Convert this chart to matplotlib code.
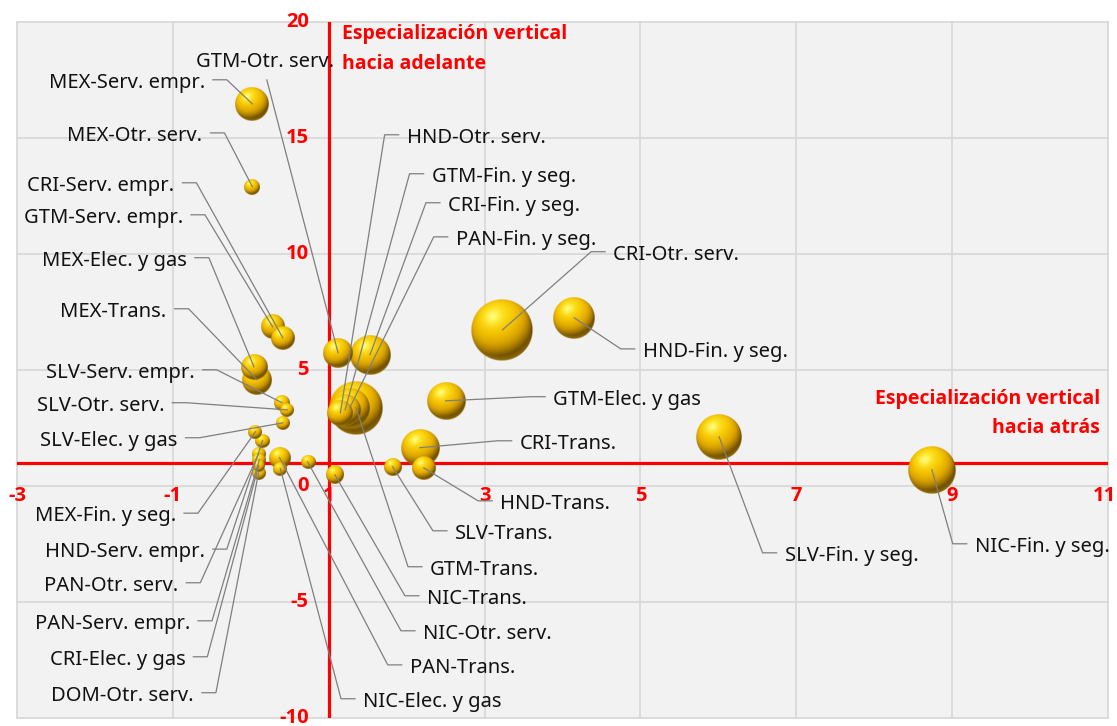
import numpy as np
import matplotlib.pyplot as plt
from matplotlib.colors import LinearSegmentedColormap

plt.rcParams['font.family'] = ['Noto Sans', 'DejaVu Sans']

# sector por país: especialización hacia atrás (x), hacia adelante (y), peso (tamaño)
etiquetas = [
    'MEX-Serv. empr.', 'MEX-Otr. serv.', 'CRI-Serv. empr.', 'GTM-Serv. empr.',
    'MEX-Elec. y gas', 'MEX-Trans.', 'SLV-Serv. empr.', 'SLV-Otr. serv.',
    'SLV-Elec. y gas', 'MEX-Fin. y seg.', 'HND-Serv. empr.', 'PAN-Otr. serv.',
    'PAN-Serv. empr.', 'CRI-Elec. y gas', 'DOM-Otr. serv.', 'GTM-Otr. serv.',
    'HND-Otr. serv.', 'GTM-Fin. y seg.', 'CRI-Fin. y seg.', 'PAN-Fin. y seg.',
    'CRI-Otr. serv.', 'HND-Fin. y seg.', 'GTM-Elec. y gas', 'CRI-Trans.',
    'HND-Trans.', 'SLV-Trans.', 'GTM-Trans.', 'NIC-Trans.',
    'NIC-Otr. serv.', 'PAN-Trans.', 'NIC-Elec. y gas', 'SLV-Fin. y seg.',
    'NIC-Fin. y seg.',
]
esp_atras = [
    0.02, 0.02, 0.41, 0.28, 0.04, 0.08, 0.40, 0.47,
    0.41, 0.06, 0.15, 0.10, 0.11, 0.10, 0.10, 1.12,
    1.15, 1.21, 1.53, 1.27, 3.23, 4.15, 2.50, 2.17,
    2.22, 1.82, 1.35, 1.08, 0.73, 0.37, 0.38, 6.01,
    8.74,
]
esp_adelante = [
    16.47, 12.90, 6.39, 6.86, 5.14, 4.58, 3.59, 3.28,
    2.72, 2.34, 1.95, 1.39, 1.13, 0.87, 0.57, 5.74,
    3.16, 3.28, 5.66, 3.37, 6.73, 7.25, 3.67, 1.65,
    0.78, 0.83, 3.37, 0.48, 1.04, 1.22, 0.74, 2.12,
    0.70,
]
peso = [
    2.89, 0.64, 1.44, 1.44, 1.69, 2.25, 0.64, 0.49,
    0.49, 0.49, 0.49, 0.49, 0.49, 0.36, 0.49, 2.25,
    1.69, 2.56, 4.00, 4.00, 9.61, 4.41, 3.61, 3.61,
    1.44, 0.81, 7.29, 0.81, 0.49, 1.21, 0.49, 5.29,
    5.76,
]

# ubicación de las etiquetas (extremo del texto) y lado del conector
etq_x = [
    -0.59, -0.62, -0.98, -0.87, -0.82, -1.08, -0.72, -1.11,
    -0.94, -0.96, -0.59, -0.93, -0.78, -0.84, -0.73, 0.18,
    2.00, 2.32, 2.53, 2.63, 4.65, 5.03, 3.88, 3.45,
    3.20, 2.62, 2.30, 2.26, 2.21, 2.04, 1.44, 6.85,
    9.29,
]
etq_y = [
    17.38, 15.09, 12.94, 11.56, 9.71, 7.51, 4.88, 3.46,
    1.95, -1.30, -2.85, -4.30, -5.94, -7.49, -9.04, 18.28,
    15.01, 13.33, 12.08, 10.61, 9.97, 5.78, 3.72, 1.82,
    -0.77, -2.06, -3.61, -4.86, -6.37, -7.84, -9.30, -3.01,
    -2.62,
]
etq_lado = ['izq'] * 15 + ['arriba'] + ['der'] * 17

x_ticks = [-3, -1, 1, 3, 5, 7, 9, 11]
y_ticks = [-10, -5, 0, 5, 10, 15, 20]

ROJO = '#ff0000'
NEGRITA = ['Open Sans', 'DejaVu Sans']
W, H = 1117, 726
fig = plt.figure(figsize=(W / 100, H / 100), dpi=100)
ax = fig.add_axes([17 / W, 8 / H, 1091 / W, 696 / H])
ax.set_xlim(-3, 11)
ax.set_ylim(-10, 20)
ax.set_facecolor('#f2f2f2')
for s in ax.spines.values():
    s.set_visible(False)
ax.set_xticks([])
ax.set_yticks([])

# tamaño de un píxel en unidades de datos
px_x = 14 / 1091
px_y = 30 / 696

for xv in x_ticks:
    ax.axvline(xv, color='#d9d9d9', lw=1.3, zorder=0, clip_on=False)
for yv in y_ticks:
    ax.axhline(yv, color='#d9d9d9', lw=1.3, zorder=0, clip_on=False)

# ejes cruzando en (1, 1)
ax.axvline(1, color=ROJO, lw=2.3, zorder=3)
ax.axhline(1, color=ROJO, lw=2.3, zorder=3)

tick_kw = dict(color=ROJO, fontsize=14.5, fontweight='bold', family=NEGRITA, clip_on=False)
for xv in x_ticks:
    # el último rótulo se corre un poco para no salirse del borde
    dx = -4 * px_x if xv == x_ticks[-1] else 0
    ax.text(xv + dx, 1 - 33 * px_y, f'{xv}', ha='center', va='center', zorder=2, **tick_kw)
for yv in y_ticks:
    ax.text(1 - 20 * px_x, yv, f'{yv}', ha='right', va='center', zorder=2, **tick_kw)


def esfera(n=160):
    u = np.linspace(-1, 1, n)
    X, Y = np.meshgrid(u, u[::-1])
    d = np.sqrt(X ** 2 + Y ** 2)
    z = np.sqrt(np.clip(1 - d ** 2, 0, 1))
    luz = np.array([-0.25, 0.55, 0.80])
    luz /= np.linalg.norm(luz)
    dif = np.clip(X * luz[0] + Y * luz[1] + z * luz[2], 0, 1)
    cmap = LinearSegmentedColormap.from_list(
        'oro', ['#6e4c00', '#a67a00', '#d9a200', '#f2c000', '#ffe01a'])
    rgb = cmap(dif)[..., :3]
    h = np.array([-0.30, 0.45, 0.84])
    h /= np.linalg.norm(h)
    brillo = np.clip(X * h[0] + Y * h[1] + z * h[2], 0, 1) ** 30
    rgb = rgb + (np.array([1.0, 1.0, 0.5]) - rgb) * brillo[..., None] * 0.9
    # reflejo tenue en el borde inferior
    borde = np.clip(-Y, 0, 1) * np.clip(d, 0, 1) ** 8 * 0.35
    rgb = rgb + (np.array([1.0, 0.82, 0.15]) - rgb) * borde[..., None]
    alpha = np.clip((1 - d) * n / 2.5, 0, 1)
    return np.dstack([np.clip(rgb, 0, 1), alpha])


img = esfera()
orden = np.argsort(peso)[::-1]
for i in orden:
    r = 10 * np.sqrt(peso[i])
    x0, y0 = esp_atras[i], esp_adelante[i]
    ax.imshow(img, extent=[x0 - r * px_x, x0 + r * px_x, y0 - r * px_y, y0 + r * px_y],
              aspect='auto', interpolation='bilinear', zorder=4)

ax.set_xlim(-3, 11)
ax.set_ylim(-10, 20)

# conectores y etiquetas
etq_kw = dict(va='center', fontsize=14.5, color='#111111', zorder=6)
for i, txt in enumerate(etiquetas):
    bx, by = esp_atras[i], esp_adelante[i]
    lx, ly = etq_x[i], etq_y[i]
    lado = etq_lado[i]
    if lado == 'izq':
        ys = ly + 3 * px_y
        xs = [bx, lx + 22 * px_x, lx + 8 * px_x]
        ax.plot(xs, [by, ys, ys], color='#7f7f7f', lw=0.9, zorder=5, clip_on=False)
        ax.text(lx, ly, txt, ha='right', **etq_kw)
    elif lado == 'der':
        ys = ly + 3 * px_y
        xs = [bx, lx - 22 * px_x, lx - 8 * px_x]
        ax.plot(xs, [by, ys, ys], color='#7f7f7f', lw=0.9, zorder=5, clip_on=False)
        ax.text(lx, ly, txt, ha='left', **etq_kw)
    else:
        ax.plot([bx, lx + 2 * px_x], [by, ly - 18 * px_y], color='#7f7f7f', lw=0.9, zorder=5)
        ax.text(lx, ly, txt, ha='center', **etq_kw)

ax.text(1 + 13 * px_x, 20 - 2 * px_y, 'Especialización vertical\nhacia adelante',
        ha='left', va='top', color=ROJO, fontsize=14, fontweight='bold', family=NEGRITA,
        linespacing=1.65, zorder=6)
ax.text(10.9, 4.2, 'Especialización vertical\nhacia atrás', ha='right', va='top',
        multialignment='right', color=ROJO, fontsize=14, fontweight='bold', family=NEGRITA,
        linespacing=1.65, zorder=6)

fig.savefig('out.png', dpi=100)
